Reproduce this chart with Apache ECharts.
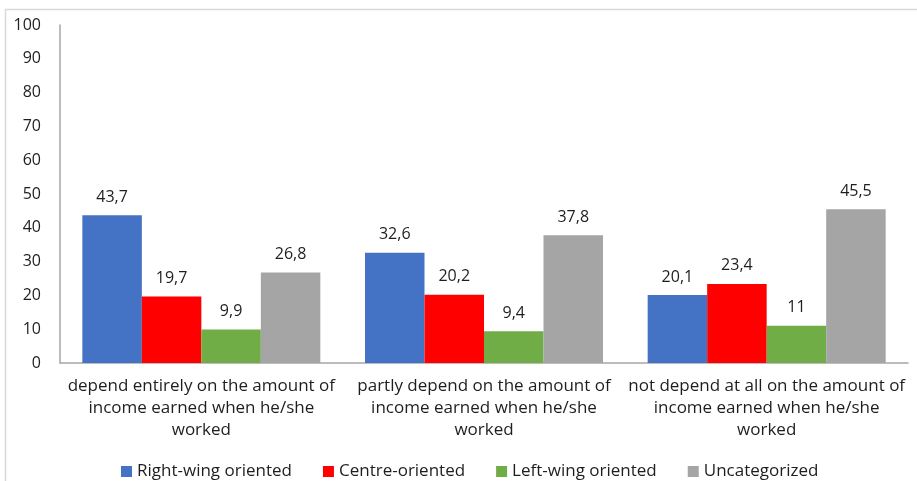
<!DOCTYPE html>
<html><head><meta charset="utf-8">
<script src="https://cdn.jsdelivr.net/npm/echarts@6/dist/echarts.min.js"></script>
<style>html,body{margin:0;padding:0;background:#fff}#c{width:917px;height:481px}</style>
</head><body><div id="c"></div>
<script>
const categories = [
  "depend entirely on the amount of\nincome earned when he/she\nworked",
  "partly depend on the amount of\nincome earned when he/she\nworked",
  "not depend at all on the amount of\nincome earned when he/she\nworked"
];
const seriesNames = ["Right-wing oriented", "Centre-oriented", "Left-wing oriented", "Uncategorized"];
const rightWing = [43.7, 32.6, 20.1];
const centre = [19.7, 20.2, 23.4];
const leftWing = [9.9, 9.4, 11];
const uncategorized = [26.8, 37.8, 45.5];
const yTicks = [0, 10, 20, 30, 40, 50, 60, 70, 80, 90, 100];
const colors = ["#4472C4", "#FF0000", "#70AD47", "#A5A5A5"];
const values = [rightWing, centre, leftWing, uncategorized];
const font = "'Open Sans', sans-serif";
const txt = '#1e1e1e';

const chart = echarts.init(document.getElementById('c'), null, {renderer: 'canvas'});
chart.setOption({
  animation: false,
  backgroundColor: '#fff',
  graphic: [{type: 'rect', shape: {x: 5.5, y: 9.5, width: 1000, height: 1000}, style: {fill: 'none', stroke: '#d9d9d9', lineWidth: 1.5}, silent: true}],
  grid: {left: 60, right: 9, top: 25, bottom: 118},
  legend: {
    top: 458, left: 116, itemWidth: 11, itemHeight: 11, itemGap: 31,
    icon: 'rect',
    textStyle: {fontFamily: font, fontSize: 17, color: txt},
    data: seriesNames
  },
  xAxis: {
    type: 'category', data: categories,
    axisLine: {lineStyle: {color: '#a6a6a6', width: 1.5}},
    axisTick: {show: false},
    axisLabel: {fontFamily: font, fontSize: 17, color: txt, lineHeight: 22, margin: 12, interval: 0}
  },
  yAxis: {
    type: 'value', min: yTicks[0], max: yTicks[yTicks.length - 1], interval: 10,
    axisLine: {show: true, lineStyle: {color: '#a6a6a6', width: 1.5}},
    axisTick: {show: false},
    splitLine: {show: false},
    axisLabel: {fontFamily: font, fontSize: 16, color: txt, margin: 19}
  },
  series: seriesNames.map((n, i) => ({
    name: n, type: 'bar', data: values[i],
    barGap: '0%', barCategoryGap: '15.8%',
    itemStyle: {color: colors[i]},
    label: {show: true, position: 'top', distance: 10, fontFamily: font, fontSize: 16, color: txt,
      formatter: p => String(p.value).replace('.', ',')}
  }))
});
</script></body></html>
